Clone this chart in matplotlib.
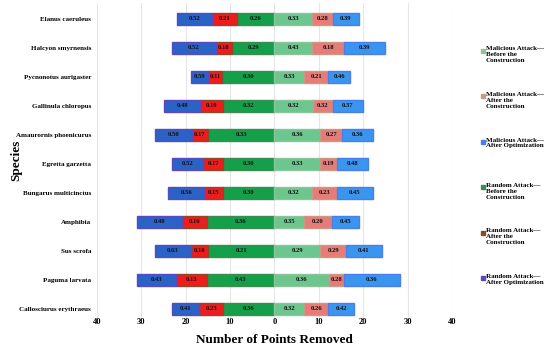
import matplotlib
matplotlib.use("Agg")
import matplotlib.pyplot as plt
from matplotlib.lines import Line2D
import numpy as np

plt.rcParams['font.family'] = ['Liberation Serif', 'DejaVu Serif']
plt.rcParams['font.weight'] = 'bold'

species = ["Elanus caeruleus", "Halcyon smyrnensis", "Pycnonotus aurigaster",
           "Gallinula chloropus", "Amaurornis phoenicurus", "Egretta garzetta",
           "Bungarus multicinctus", "Amphibia", "Sus scrofa", "Paguma larvata",
           "Callosciurus erythraeus"]

# Random attack (drawn to the left)
rand_before = [8.5, 9.6, 11.7, 11.5, 15.0, 11.5, 11.5, 15.1, 15.0, 15.1, 11.5]
rand_after = [5.5, 3.6, 3.2, 5.2, 3.6, 4.5, 4.3, 5.8, 3.8, 7.0, 5.4]
rand_opt = [8.0, 9.8, 4.0, 8.2, 8.3, 7.0, 8.1, 10.1, 8.2, 8.9, 6.1]
# Malicious attack (drawn to the right)
mal_before = [8.4, 8.5, 6.7, 8.6, 10.3, 10.3, 8.4, 6.7, 10.3, 12.2, 6.7]
mal_after = [4.7, 7.2, 5.4, 4.5, 5.0, 3.8, 5.7, 6.2, 5.8, 3.5, 5.4]
mal_opt = [6.0, 9.1, 5.0, 6.9, 6.8, 7.0, 8.0, 6.2, 8.1, 12.5, 5.9]

# Labels shown in the segments
lab_rand_before = ["0.26", "0.29", "0.30", "0.32", "0.33", "0.30", "0.30", "0.36", "0.21", "0.43", "0.36"]
lab_rand_after = ["0.21", "0.18", "0.11", "0.19", "0.17", "0.17", "0.15", "0.16", "0.16", "0.13", "0.23"]
lab_rand_opt = ["0.52", "0.52", "0.59", "0.48", "0.50", "0.52", "0.56", "0.48", "0.63", "0.43", "0.41"]
lab_mal_before = ["0.33", "0.43", "0.33", "0.32", "0.36", "0.33", "0.32", "0.35", "0.29", "0.36", "0.32"]
lab_mal_after = ["0.28", "0.18", "0.21", "0.32", "0.27", "0.19", "0.23", "0.20", "0.29", "0.28", "0.26"]
lab_mal_opt = ["0.39", "0.39", "0.46", "0.37", "0.36", "0.48", "0.45", "0.45", "0.41", "0.36", "0.42"]

xticks = [-40, -30, -20, -10, 0, 10, 20, 30, 40]
xticklabels = ["40", "30", "20", "10", "0", "10", "20", "30", "40"]

legend_labels = ["Malicious Attack\u2014\nBefore the\nConstruction",
                 "Malicious Attack\u2014\nAfter the\nConstruction",
                 "Malicious Attack\u2014\nAfter Optimization",
                 "Random Attack\u2014\nBefore the\nConstruction",
                 "Random Attack\u2014\nAfter the\nConstruction",
                 "Random Attack\u2014\nAfter Optimization"]

c_rb, c_ra, c_ro = "#14a04a", "#ee1c1c", "#2a62c6"
c_mb, c_ma, c_mo = "#6cc68e", "#e67c78", "#3a95ef"
e_rb, e_ra, e_ro = "#3e8a52", "#8a4a2a", "#5a4ac0"
e_mb, e_ma, e_mo = "#8cc49e", "#c89a86", "#4a7ef0"
legend_colors = [e_mb, e_ma, e_mo, e_rb, e_ra, e_ro]

fig = plt.figure(figsize=(5.5, 3.49), dpi=100)
ax = fig.add_axes([0.176, 0.0897, 0.646, 0.9017])

n = len(species)
y = np.arange(n)[::-1]
h = 0.40

rb = np.array(rand_before); ra = np.array(rand_after); ro = np.array(rand_opt)
mb = np.array(mal_before); ma = np.array(mal_after); mo = np.array(mal_opt)

segs = [
    (-rb, np.zeros(n), c_rb, e_rb, lab_rand_before),
    (-ra, -rb, c_ra, e_ra, lab_rand_after),
    (-ro, -(rb + ra), c_ro, e_ro, lab_rand_opt),
    (mb, np.zeros(n), c_mb, e_mb, lab_mal_before),
    (ma, mb, c_ma, e_ma, lab_mal_after),
    (mo, mb + ma, c_mo, e_mo, lab_mal_opt),
]
for w, left, c, ec, labs in segs:
    bars = ax.barh(y, w, left=left, height=h, color=c, edgecolor=ec, linewidth=1.0, zorder=3)
    ax.bar_label(bars, labels=labs, label_type='center', fontsize=4.8, fontweight='bold',
                 color='#111111', zorder=4)

ax.set_xlim(-40, 40)
ax.set_ylim(-0.3, n - 0.45)
ax.set_xticks(xticks)
ax.set_xticklabels(xticklabels, fontsize=6, fontweight='bold')
ax.set_yticks(y)
ax.set_yticklabels(species, fontsize=5.0, fontweight='bold')
ax.tick_params(axis='both', length=0)
ax.tick_params(axis='y', pad=4)
ax.tick_params(axis='x', pad=0.5)
ax.grid(axis='x', color='#e6e6e6', linewidth=0.8, zorder=0)
for s in ax.spines.values():
    s.set_visible(False)

ax.set_xlabel("Number of Points Removed", fontsize=9.5, fontweight='bold')
ax.xaxis.set_label_coords(0.5, -0.052)
ax.set_ylabel("Species", fontsize=9.5, fontweight='bold')
ax.yaxis.set_label_coords(-0.211, 0.5)

# Legend (manual layout)
for i, (lab, col) in enumerate(zip(legend_labels, legend_colors)):
    ypix = 50.5 + i * 45.5
    yf = 1 - ypix / 349
    fig.add_artist(Line2D([483 / 550], [yf], marker='s', markersize=2.6, color=col,
                          linestyle='none', transform=fig.transFigure))
    fig.text(486 / 550, yf + 4.0 / 349, lab, fontsize=5, fontweight='bold',
             va='top', ha='left', linespacing=1.2)

fig.savefig("out.png", dpi=100)
